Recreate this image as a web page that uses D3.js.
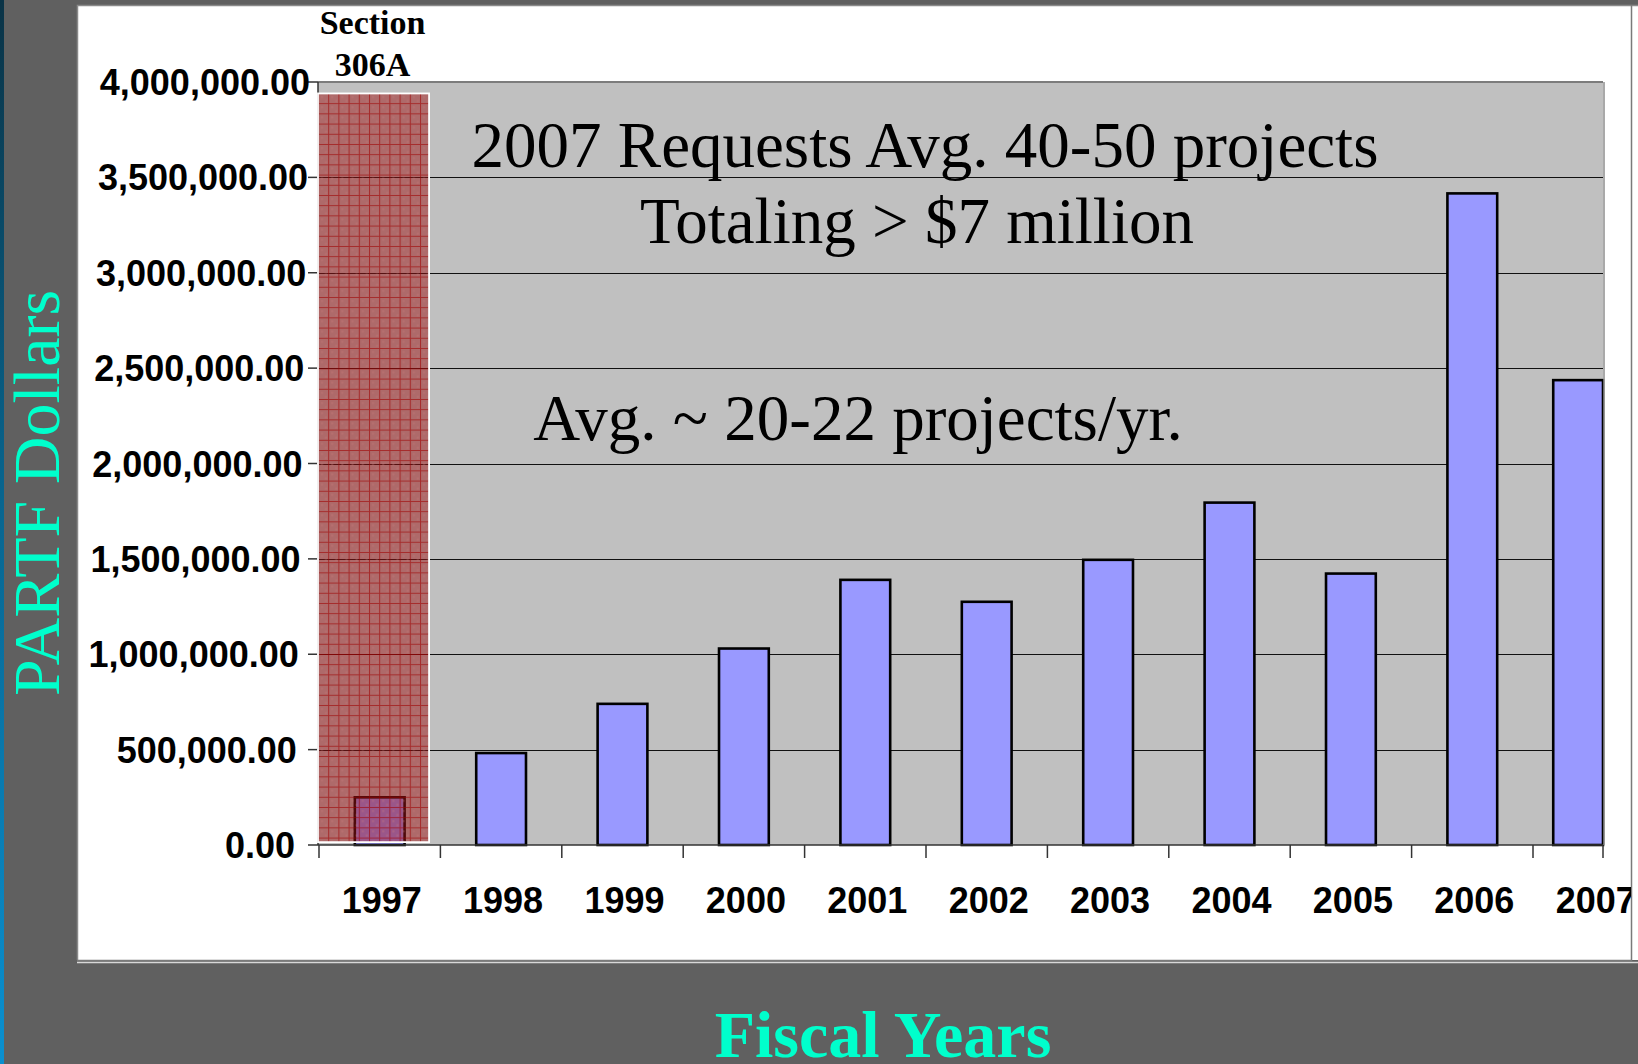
<!DOCTYPE html>
<html>
<head>
<meta charset="utf-8">
<script src="https://cdn.jsdelivr.net/npm/d3@7"></script>
<style>
  html, body { margin: 0; padding: 0; background: #606060; }
  svg { display: block; }
</style>
</head>
<body>
<div id="chart"></div>
<script>
// PARTF grant dollars by fiscal year

var years = ['1997', '1998', '1999', '2000', '2001', '2002', '2003', '2004', '2005', '2006', '2007'];
var dollars = [250000, 482000, 740000, 1030000, 1390000, 1275000, 1495000, 1795000, 1423000, 3416000, 2437000];
var yTicks = [0, 500000, 1000000, 1500000, 2000000, 2500000, 3000000, 3500000, 4000000];
var sectionLabel = ['Section', '306A'];
var sectionRange = [15000, 3940000];   // dollar span covered by the 306A overlay
var notes = ['2007 Requests Avg. 40-50 projects', 'Totaling > $7 million', 'Avg. ~ 20-22 projects/yr.'];

var W = 1638, H = 1064;
var plot = {left: 318, right: 1603, top: 82, bottom: 845};
var step = 121.4;

var svg = d3.select('#chart')
    .append('svg')
    .attr('width', W)
    .attr('height', H);

var defs = svg.append('defs');

var grad = defs.append('linearGradient')
    .attr('id', 'edge')
    .attr('x1', 0).attr('y1', 0).attr('x2', 0).attr('y2', 1);
grad.append('stop').attr('offset', '0%').attr('stop-color', '#0a3346');
grad.append('stop').attr('offset', '45%').attr('stop-color', '#08638c');
grad.append('stop').attr('offset', '100%').attr('stop-color', '#0a90d0');

defs.append('clipPath').attr('id', 'plotclip')
    .append('rect')
    .attr('x', plot.left).attr('y', plot.top - 2)
    .attr('width', plot.right - plot.left + 2).attr('height', plot.bottom - plot.top + 4);

defs.append('clipPath').attr('id', 'panelclip')
    .append('rect')
    .attr('x', 77).attr('y', 5).attr('width', 1554).attr('height', 955);

// red hatch used for the Section 306A overlay
var hatch = defs.append('pattern')
    .attr('id', 'hatch')
    .attr('patternUnits', 'userSpaceOnUse')
    .attr('x', plot.left).attr('y', 93)
    .attr('width', 10.2).attr('height', 10.2);
hatch.append('rect').attr('width', 10.2).attr('height', 10.2).attr('fill', 'rgba(155,20,20,0.5)');
hatch.append('rect').attr('x', 3).attr('y', 3).attr('width', 2).attr('height', 2).attr('fill', 'rgba(200,120,120,0.35)');
hatch.append('rect').attr('x', 7).attr('y', 7).attr('width', 2).attr('height', 2).attr('fill', 'rgba(200,120,120,0.35)');
hatch.append('path')
    .attr('d', 'M0,0.5H10.2M0.5,0V10.2')
    .attr('stroke', 'rgba(160,0,0,0.6)')
    .attr('stroke-width', 1);

// background and frame
svg.append('rect').attr('width', W).attr('height', H).attr('fill', '#606060');
svg.append('rect').attr('x', 0).attr('y', 0).attr('width', 4).attr('height', H).attr('fill', 'url(#edge)');
svg.append('rect')
    .attr('x', 77).attr('y', 5).attr('width', W - 77).attr('height', 955)
    .attr('fill', '#ffffff');
svg.append('path')
    .attr('d', 'M77.5,960V5.5H' + W)
    .attr('fill', 'none').attr('stroke', '#8a8a8a').attr('stroke-width', 1.5);
svg.append('path')
    .attr('d', 'M77,960.5H1631.5V5')
    .attr('fill', 'none').attr('stroke', '#7a7a7a').attr('stroke-width', 1.5);
svg.append('line')
    .attr('x1', 77).attr('x2', W).attr('y1', 962.5).attr('y2', 962.5)
    .attr('stroke', '#d8d8d8').attr('stroke-width', 1.5);

var x = d3.scaleBand()
    .domain(years)
    .range([plot.left + 1, plot.left + 1 + step * years.length])
    .paddingInner(0.59)
    .paddingOuter(0.295);

var y = d3.scaleLinear()
    .domain([0, 4000000])
    .range([plot.bottom, plot.top]);

var fmt = d3.format(',.2f');

// last category is squeezed against the right edge of the plot
function barX(d) {
    return Math.min(x(d), plot.right - x.bandwidth());
}

// plot area
svg.append('rect')
    .attr('x', plot.left).attr('y', plot.top)
    .attr('width', plot.right - plot.left).attr('height', plot.bottom - plot.top)
    .attr('fill', '#c0c0c0');

var inner = svg.append('g').attr('clip-path', 'url(#plotclip)');

inner.selectAll('line.grid')
    .data(yTicks.filter(function(t) { return t > 0 && t < 4000000; }))
    .enter().append('line')
    .attr('class', 'grid')
    .attr('x1', plot.left).attr('x2', plot.right)
    .attr('y1', function(d) { return Math.round(y(d)) + 0.5; })
    .attr('y2', function(d) { return Math.round(y(d)) + 0.5; })
    .attr('stroke', '#111').attr('stroke-width', 1.2);

inner.selectAll('rect.bar')
    .data(dollars)
    .enter().append('rect')
    .attr('class', 'bar')
    .attr('x', function(d, i) { return barX(years[i]); })
    .attr('width', x.bandwidth())
    .attr('y', function(d) { return y(d); })
    .attr('height', function(d) { return y(0) - y(d); })
    .attr('fill', '#9999ff')
    .attr('stroke', '#000')
    .attr('stroke-width', 2.6);

// axis lines and border
svg.append('line')
    .attr('x1', plot.left).attr('x2', plot.right)
    .attr('y1', plot.top).attr('y2', plot.top)
    .attr('stroke', '#7c7c7c').attr('stroke-width', 2);
svg.append('line')
    .attr('x1', plot.right + 1).attr('x2', plot.right + 1)
    .attr('y1', plot.top).attr('y2', plot.bottom)
    .attr('stroke', '#8c8c8c').attr('stroke-width', 1.5);
svg.append('line')
    .attr('x1', plot.left).attr('x2', plot.left)
    .attr('y1', plot.top).attr('y2', plot.bottom)
    .attr('stroke', '#333').attr('stroke-width', 1.5);
svg.append('line')
    .attr('x1', plot.left).attr('x2', plot.right)
    .attr('y1', plot.bottom).attr('y2', plot.bottom)
    .attr('stroke', '#333').attr('stroke-width', 1.5);

// y ticks and labels
svg.selectAll('line.ytick')
    .data(yTicks)
    .enter().append('line')
    .attr('x1', plot.left - 10).attr('x2', plot.left)
    .attr('y1', function(d) { return y(d); })
    .attr('y2', function(d) { return y(d); })
    .attr('stroke', '#333').attr('stroke-width', 1.5);

// the source labels drift a little to the left toward the bottom
svg.selectAll('text.ylab')
    .data(yTicks)
    .enter().append('text')
    .attr('class', 'ylab')
    .attr('x', function(d) { return 295 + 15 * d / 4000000; })
    .attr('y', function(d) { return y(d) + 13; })
    .attr('text-anchor', 'end')
    .attr('font-family', '"Liberation Sans", Arial, sans-serif')
    .attr('font-weight', 'bold')
    .attr('font-size', 36)
    .attr('fill', '#000')
    .text(function(d) { return fmt(d); });

// x ticks at band edges, and year labels
var edges = years.map(function(d) { return x(d) - x.step() * x.paddingOuter(); }).concat([plot.right]);
svg.selectAll('line.xtick')
    .data(edges)
    .enter().append('line')
    .attr('x1', function(d) { return d; }).attr('x2', function(d) { return d; })
    .attr('y1', plot.bottom).attr('y2', plot.bottom + 13)
    .attr('stroke', '#333').attr('stroke-width', 1.5);

svg.append('g').attr('clip-path', 'url(#panelclip)')
    .selectAll('text.xlab')
    .data(years)
    .enter().append('text')
    .attr('x', function(d) { return x(d) + x.bandwidth() / 2 + 2; })
    .attr('y', 913)
    .attr('text-anchor', 'middle')
    .attr('font-family', '"Liberation Sans", Arial, sans-serif')
    .attr('font-weight', 'bold')
    .attr('font-size', 36)
    .attr('fill', '#000')
    .text(function(d) { return d; });

// Section 306A overlay over the 1997 column
var secX = x.range()[0] - 1;
svg.append('rect')
    .attr('x', secX)
    .attr('y', y(sectionRange[1]))
    .attr('width', x.step() * 0.915)
    .attr('height', y(sectionRange[0]) - y(sectionRange[1]))
    .attr('fill', 'url(#hatch)')
    .attr('stroke', '#ffffff')
    .attr('stroke-width', 1.8);

svg.selectAll('text.sec')
    .data(sectionLabel)
    .enter().append('text')
    .attr('x', secX + x.step() * 0.915 / 2 - 1)
    .attr('y', function(d, i) { return 34 + i * 42; })
    .attr('text-anchor', 'middle')
    .attr('font-family', '"Liberation Serif", "Times New Roman", serif')
    .attr('font-weight', 'bold')
    .attr('font-size', 34)
    .attr('fill', '#000')
    .text(function(d) { return d; });

// annotations in the plot
var noteX = [925, 917, 858], noteY = [167, 243, 440];
svg.selectAll('text.note')
    .data(notes)
    .enter().append('text')
    .attr('x', function(d, i) { return noteX[i]; })
    .attr('y', function(d, i) { return noteY[i]; })
    .attr('text-anchor', 'middle')
    .attr('font-family', '"Liberation Serif", "Times New Roman", serif')
    .attr('font-size', 65)
    .attr('fill', '#000')
    .text(function(d) { return d; });

// axis titles
svg.append('text')
    .attr('transform', 'translate(59,493)rotate(-90)')
    .attr('text-anchor', 'middle')
    .attr('font-family', '"Liberation Serif", "Times New Roman", serif')
    .attr('font-size', 66)
    .attr('fill', '#00ffcc')
    .text('PARTF Dollars');

svg.append('text')
    .attr('x', 883)
    .attr('y', 1057)
    .attr('text-anchor', 'middle')
    .attr('font-family', '"Liberation Serif", "Times New Roman", serif')
    .attr('font-weight', 'bold')
    .attr('font-size', 66)
    .attr('fill', '#00ffcc')
    .text('Fiscal Years');
</script>
</body>
</html>
